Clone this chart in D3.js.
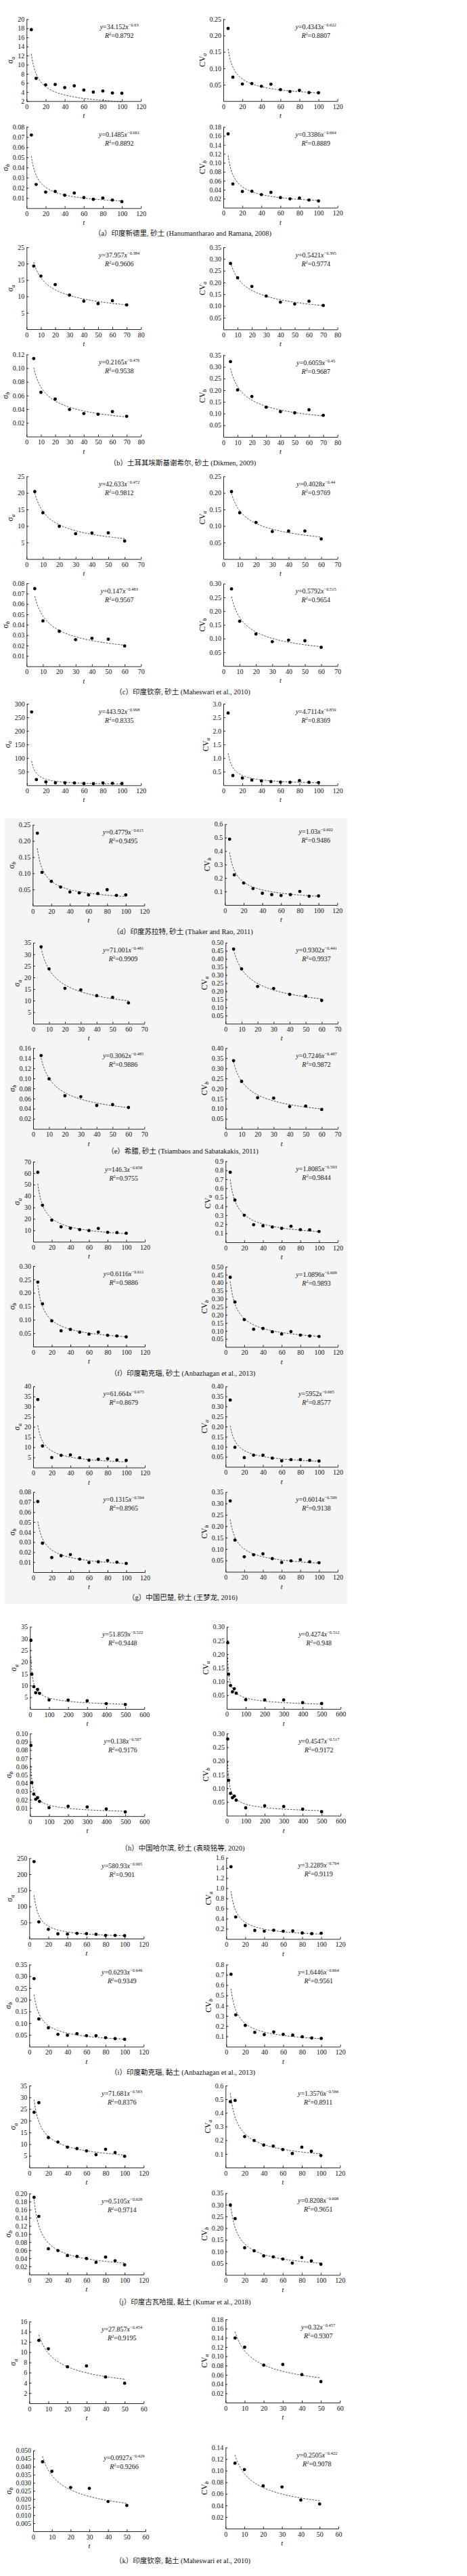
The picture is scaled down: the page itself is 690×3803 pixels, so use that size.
<!DOCTYPE html>
<html><head><meta charset="utf-8">
<script src="https://cdn.jsdelivr.net/npm/d3@7"></script>
<style>body{margin:0;background:#fff}svg{display:block}</style>
</head><body>
<svg id="c" width="690" height="3803"></svg>
<script>
const groupIds = ["a","b","c","d","e","f","g","h","i","j","k"];
const captions = [
 "（a）印度新德里, 砂土 (Hanumantharao and Ramana, 2008)",
 "（b）土耳其埃斯基谢希尔, 砂土 (Dikmen, 2009)",
 "（c）印度钦奈, 砂土 (Maheswari et al., 2010)",
 "（d）印度苏拉特, 砂土 (Thaker and Rao, 2011)",
 "（e）希腊, 砂土 (Tsiambaos and Sabatakakis, 2011)",
 "（f）印度勒克瑙, 砂土 (Anbazhagan et al., 2013)",
 "（g）中国巴楚, 砂土 (王梦龙, 2016)",
 "（h）中国哈尔滨, 砂土 (袁晓铭等, 2020)",
 "（i）印度勒克瑙, 黏土 (Anbazhagan et al., 2013)",
 "（j）印度古瓦哈提, 黏土 (Kumar et al., 2018)",
 "（k）印度钦奈, 黏土 (Maheswari et al., 2010)"
];
const t11 = [5,10,20,30,40,50,60,70,80,90,100];
const tValues = [
 t11, [5,10,20,30,40,50,60,70], [5,10,20,30,40,50,60], t11,
 [5,10,20,30,40,50,60], t11, t11, [5,10,20,30,40,50,100,200,300,400,500],
 t11, t11, [5,10,20,30,40,50]
];
const xMaxs = [120,80,70,120,70,120,120,600,120,120,60];
const xSteps = [20,10,10,20,10,20,20,100,20,20,10];

const sigmaA = [
 [17.7,7.0,5.57,5.67,4.97,5.37,4.43,3.98,4.23,3.78,3.73],
 [19.25,16.2,13.6,10.4,8.56,7.8,8.7,7.4],
 [20.4,14.0,9.9,7.65,7.85,7.92,5.46],
 [270,20.8,12.5,9.1,9.1,8.3,6.6,5.8,8.3,7.5,6.6],
 [33.2,23.7,15.3,14.6,12.1,11.4,9.0],
 [60.7,31.9,18.9,13.0,11.8,10.6,9.8,11.6,8.2,8.0,7.4],
 [33.5,10.6,4.9,6.0,6.2,4.8,3.6,4.0,4.3,3.7,3.5],
 [29.2,14.8,9.5,6.9,8.3,6.7,3.85,3.75,3.46,2.3,1.9],
 [239.4,52,28.8,14.7,14.1,16.2,15.4,13.3,9.9,9.9,9.1],
 [23.6,27.7,12.8,10.9,8.7,8.1,7.1,5.5,7.8,6.4,4.8],
 [12.3,10.66,7.13,7.3,5.15,3.92]
];
const cvA = [
 [0.2217,0.0728,0.052,0.0534,0.0452,0.0514,0.0348,0.0293,0.0328,0.0259,0.0252],
 [0.281,0.220,0.183,0.142,0.116,0.108,0.120,0.102],
 [0.204,0.140,0.1106,0.0833,0.0846,0.0846,0.0608],
 [2.66,0.357,0.266,0.191,0.158,0.133,0.116,0.108,0.174,0.108,0.0997],
 [0.461,0.338,0.2297,0.2171,0.181,0.170,0.1433],
 [0.777,0.468,0.300,0.195,0.183,0.170,0.155,0.178,0.140,0.138,0.120],
 [0.332,0.097,0.0456,0.0579,0.0579,0.0433,0.0298,0.0355,0.0355,0.0321,0.0287],
 [0.242,0.127,0.0855,0.0624,0.0739,0.0574,0.0335,0.0327,0.0327,0.0228,0.0195],
 [1.424,0.433,0.264,0.167,0.153,0.171,0.153,0.157,0.117,0.104,0.113],
 [0.4826,0.492,0.2265,0.198,0.165,0.157,0.132,0.103,0.149,0.119,0.0877],
 [0.1395,0.1196,0.081,0.0825,0.0605,0.0454]
];
const sigmaB = [
 [0.072,0.0233,0.0158,0.0164,0.0127,0.0149,0.0104,0.0087,0.0100,0.0080,0.0064],
 [0.114,0.0646,0.0547,0.0395,0.0336,0.0326,0.0365,0.0296],
 [0.0748,0.0437,0.0337,0.0257,0.0270,0.0261,0.0196],
 [0.224,0.1029,0.0751,0.0575,0.0422,0.0395,0.0332,0.0374,0.0492,0.0318,0.0332],
 [0.1452,0.0991,0.0656,0.0638,0.0464,0.0481,0.0424],
 [0.240,0.159,0.0958,0.0588,0.0638,0.0538,0.0462,0.0538,0.0420,0.0395,0.0361],
 [0.0705,0.0289,0.0146,0.0164,0.0175,0.0130,0.0096,0.0103,0.0116,0.0099,0.0087],
 [0.0857,0.0406,0.0267,0.0204,0.0223,0.0179,0.0103,0.0119,0.0111,0.0086,0.0051],
 [0.290,0.1178,0.0803,0.0524,0.0486,0.0553,0.0466,0.0466,0.0380,0.0341,0.0313],
 [0.1906,0.1436,0.0637,0.0592,0.0469,0.0447,0.0397,0.0302,0.0431,0.0341,0.024],
 [0.0430,0.0371,0.0271,0.0266,0.0184,0.0160]
];
const cvB = [
 [0.1644,0.0527,0.0361,0.0366,0.0291,0.0341,0.0225,0.0196,0.0215,0.0170,0.0150],
 [0.322,0.201,0.173,0.127,0.108,0.103,0.116,0.0923],
 [0.281,0.163,0.1165,0.0885,0.0942,0.0918,0.0679],
 [0.488,0.2233,0.163,0.1217,0.0867,0.0767,0.07,0.0767,0.1,0.065,0.0667],
 [0.338,0.235,0.1544,0.1523,0.1106,0.113,0.0962],
 [0.434,0.280,0.170,0.110,0.115,0.0944,0.0805,0.0956,0.0734,0.068,0.065],
 [0.311,0.139,0.066,0.0748,0.0787,0.0579,0.041,0.048,0.0529,0.044,0.040],
 [0.280,0.129,0.0812,0.0656,0.0713,0.0564,0.0285,0.0359,0.0334,0.0235,0.0144],
 [0.705,0.310,0.207,0.139,0.117,0.143,0.120,0.113,0.097,0.084,0.080],
 [0.2985,0.2408,0.116,0.103,0.0813,0.0773,0.0678,0.0505,0.0744,0.06,0.0456],
 [0.1129,0.102,0.0738,0.0718,0.0492,0.0425]
];

const fitSigmaA = [[34.152,-0.63],[37.957,-0.384],[42.633,-0.472],[443.92,-0.998],[71.001,-0.481],[146.3,-0.658],[61.664,-0.675],[51.859,-0.522],[580.93,-0.905],[71.681,-0.563],[27.857,-0.454]];
const fitCvA = [[0.4343,-0.622],[0.5421,-0.395],[0.4028,-0.44],[4.7114,-0.859],[0.9302,-0.441],[1.8085,-0.593],[0.5952,-0.665],[0.4274,-0.512],[3.2289,-0.764],[1.3576,-0.566],[0.32,-0.457]];
const fitSigmaB = [[0.1485,-0.661],[0.2165,-0.476],[0.147,-0.483],[0.4779,-0.615],[0.3062,-0.485],[0.6116,-0.611],[0.1315,-0.594],[0.138,-0.507],[0.6293,-0.649],[0.5105,-0.628],[0.0927,-0.429]];
const fitCvB = [[0.3386,-0.664],[0.6059,-0.45],[0.5792,-0.515],[1.03,-0.602],[0.7246,-0.487],[1.0896,-0.609],[0.6014,-0.599],[0.4547,-0.517],[1.6446,-0.664],[0.8208,-0.608],[0.2505,-0.422]];
const r2SigmaA = ["0.8792","0.9606","0.9812","0.8335","0.9909","0.9755","0.8679","0.9448","0.901","0.8376","0.9195"];
const r2CvA = ["0.8807","0.9774","0.9769","0.8369","0.9937","0.9844","0.8577","0.948","0.9119","0.8911","0.9307"];
const r2SigmaB = ["0.8892","0.9538","0.9567","0.9495","0.9886","0.9886","0.8965","0.9176","0.9349","0.9714","0.9266"];
const r2CvB = ["0.8889","0.9687","0.9654","0.9486","0.9872","0.9893","0.9138","0.9172","0.9561","0.9651","0.9078"];
const coefLabelOverride = {"g-1":"5952"};

const yMinSigmaA = [2,0,0,0,0,0,0,0,0,0,0];
const yMaxSigmaA = [20,25,25,300,35,70,40,35,250,35,16];
const yStepSigmaA = [2,5,5,50,5,10,5,5,50,5,2];
const yMaxCvA = [0.25,0.35,0.25,3.0,0.5,0.9,0.4,0.3,1.6,0.6,0.18];
const yStepCvA = [0.05,0.05,0.05,0.5,0.05,0.1,0.05,0.05,0.2,0.1,0.02];
const yMaxSigmaB = [0.08,0.12,0.08,0.25,0.16,0.3,0.08,0.1,0.35,0.2,0.05];
const yStepSigmaB = [0.01,0.02,0.01,0.05,0.02,0.05,0.01,0.01,0.05,0.02,0.005];
const yMaxCvB = [0.18,0.35,0.30,0.6,0.40,0.5,0.35,0.30,0.8,0.35,0.14];
const yStepCvB = [0.02,0.05,0.05,0.1,0.05,0.05,0.05,0.05,0.1,0.05,0.02];

// layout: [x0, x1, yTopPx (max value), yBottomPx (min value)] for TL, TR, BL, BR
const layout = [
 [[39.3,208.3,28.3,149.3],[330,498.7,28.3,149.2],[39.3,208.3,187.3,307.3],[330,498.7,187.3,306.6]],
 [[39.3,208.3,365,486],[330,498.7,365,486.3],[39.3,208.3,523.3,644.5],[330,498.7,524.3,645]],
 [[39.3,208.3,703.3,825.3],[330,498.7,703.3,825.3],[39.3,208.3,861,983.7],[330,498.7,861.7,983.2]],
 [[39.7,208.3,1039,1159.3],[330,498.7,1039,1159.3],[48.3,213.3,1217.7,1337],[332.3,498.3,1216.7,1336]],
 [[49,213.3,1391.7,1511.4],[333.3,499,1391.7,1511.3],[49,213.3,1547.3,1666.6],[333.3,499,1547.3,1666.6]],
 [[49,214,1715,1833.2],[333.3,499,1714.3,1834],[49,214,1869,1988],[333.3,499,1870,1988.5]],
 [[49,214,2046.7,2166.5],[333.3,499,2046.7,2165.5],[49,214,2202.7,2321],[333.3,499,2202.7,2320.5]],
 [[44.3,213.3,2401.7,2523],[335,503.3,2401.7,2522.9],[44.3,213.3,2559.3,2681.2],[335,503.3,2559.3,2680.5]],
 [[43.3,212.3,2743.3,2862],[334.3,502.7,2742.7,2862.5],[43.3,212.3,2900.3,3021.5],[334.3,502.7,2900.3,3021.5]],
 [[43.3,212.3,3079,3200],[333.3,502.3,3079,3200],[43.3,212.3,3238.3,3358],[333.3,502.3,3237.7,3358.5]],
 [[43.3,212.3,3427.3,3548],[333.3,502.3,3424,3547],[49,215,3617.7,3737],[333.3,500,3613.3,3733]]
];
const captionY = [344.3,683.3,1021,1375,1699,2027.3,2358.3,2728.3,3059,3398.3,3780];

const FONT = "'Liberation Serif','Times New Roman',serif";
const svg = d3.select("#c");
svg.append("rect").attr("x",7).attr("y",1208).attr("width",506).attr("height",1160).attr("fill","#f5f5f5");

const seriesData = [sigmaA, cvA, sigmaB, cvB];
const fits = [fitSigmaA, fitCvA, fitSigmaB, fitCvB];
const r2s = [r2SigmaA, r2CvA, r2SigmaB, r2CvB];
const yMins = [yMinSigmaA, null, null, null];
const yMaxs = [yMaxSigmaA, yMaxCvA, yMaxSigmaB, yMaxCvB];
const ySteps = [yStepSigmaA, yStepCvA, yStepSigmaB, yStepCvB];
const yLabels = [["σ","a"],["CV","a"],["σ","b"],["CV","b"]];

function rangeTicks(start, max, step){
  const n = Math.round((max - start)/step);
  return d3.range(n+1).map(i => +(start + i*step).toFixed(6));
}
function decimals(step){ return Math.max(0, -Math.floor(Math.log10(step)+1e-9)); }
const fmtNum = v => String(v).replace("-", "−");

groupIds.forEach((gid, gi) => {
  for (let pi = 0; pi < 4; pi++) {
    const [x0, x1, yTop, yBot] = layout[gi][pi];
    const g = svg.append("g");
    const t = tValues[gi];
    const vals = seriesData[pi][gi];
    const yMin = yMins[pi] ? yMins[pi][gi] : 0;
    const yMax = yMaxs[pi][gi], yStep = ySteps[pi][gi];
    const x = d3.scaleLinear().domain([0, xMaxs[gi]]).range([x0, x1]);
    const y = d3.scaleLinear().domain([yMin, yMax]).range([yBot, yTop]);

    const xa = g.append("g").attr("transform", `translate(0,${yBot})`)
      .call(d3.axisBottom(x).tickValues(rangeTicks(0, xMaxs[gi], xSteps[gi]))
        .tickSize(-3).tickSizeOuter(0).tickPadding(4.5).tickFormat(d3.format("d")));
    const yStart = yMin > 0 ? yMin : yStep;
    const ya = g.append("g").attr("transform", `translate(${x0},0)`)
      .call(d3.axisLeft(y).tickValues(rangeTicks(yStart, yMax, yStep))
        .tickSize(-3).tickSizeOuter(0).tickPadding(3).tickFormat(d3.format(`.${decimals(yStep)}f`)));
    [xa, ya].forEach(a => {
      a.attr("font-family", FONT).attr("font-size", 10);
      a.selectAll("path,line").attr("stroke", "#111").attr("stroke-width", 0.9);
      a.selectAll("text").attr("fill", "#111");
    });

    // t label
    g.append("text").attr("x", (x0 + x1)/2).attr("y", yBot + 25)
      .attr("text-anchor","middle").attr("font-family", FONT).attr("font-size", 10)
      .attr("font-style","italic").text("t");

    // y label (bbox is in the axis group's local space, so add x0)
    const bb = ya.node().getBBox();
    const lx = x0 + bb.x - 7, ly = (yTop + yBot)/2;
    const yl = g.append("text").attr("transform", `translate(${lx},${ly}) rotate(-90)`)
      .attr("text-anchor","middle").attr("font-family", FONT).attr("font-size", 11.5);
    yl.append("tspan").text(yLabels[pi][0]);
    yl.append("tspan").attr("font-size", 8).attr("font-style","italic").attr("dy", 2.5).text(yLabels[pi][1]);

    // fit curve
    const [a, b] = fits[pi][gi];
    const tFirst = t[0], tLast = t[t.length-1];
    const samples = d3.range(0, 201).map(i => tFirst + (tLast - tFirst) * Math.pow(i/200, 1.6));
    g.append("path").datum(samples)
      .attr("d", d3.line().x(s => x(s)).y(s => y(a * Math.pow(s, b))))
      .attr("fill","none").attr("stroke","#222").attr("stroke-width",0.9).attr("stroke-dasharray","2.6,1.8");

    // points
    g.selectAll("circle.pt").data(t.map((tv,i)=>[tv, vals[i]])).enter().append("circle")
      .attr("cx", d => x(d[0])).attr("cy", d => y(d[1])).attr("r", 2.4).attr("fill","#000");

    // equation
    const ex = x0 + 0.81*(x1 - x0);
    const coefText = coefLabelOverride[`${gid}-${pi}`] || String(a);
    const eq = g.append("text").attr("x", ex).attr("y", yTop + 14.5).attr("text-anchor","middle")
      .attr("font-family", FONT).attr("font-size", 10).attr("fill","#111");
    eq.append("tspan").attr("font-style","italic").text("y");
    eq.append("tspan").text("=" + coefText);
    eq.append("tspan").attr("font-style","italic").text("x");
    eq.append("tspan").attr("font-size", 6.5).attr("dy", -4).text(fmtNum(b));
    const r2 = g.append("text").attr("x", ex).attr("y", yTop + 27.5).attr("text-anchor","middle")
      .attr("font-family", FONT).attr("font-size", 10).attr("fill","#111");
    r2.append("tspan").attr("font-style","italic").text("R");
    r2.append("tspan").attr("font-size", 6.5).attr("dy", -4).text("2");
    r2.append("tspan").attr("dy", 4).text("=" + r2s[pi][gi]);
  }
  svg.append("text").attr("x", 270).attr("y", captionY[gi] + 3.8)
    .attr("text-anchor","middle").attr("font-family", FONT + ",'Noto Sans CJK SC'")
    .attr("font-size", 10.5).attr("fill","#111").text(captions[gi]);
});
</script>
</body></html>
